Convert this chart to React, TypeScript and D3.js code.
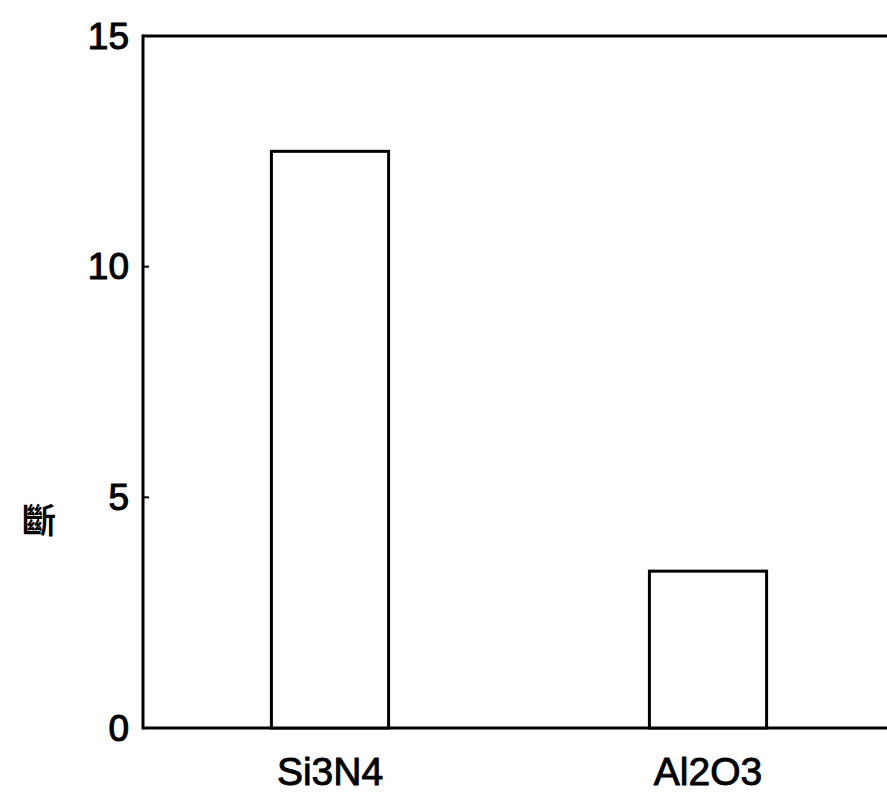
import React from "react";
import * as d3 from "d3";

const categories = ["Si3N4", "Al2O3"];
const values = [12.5, 3.4];
const yTicks = [0, 5, 10, 15];
const yLabel = "斷";

const W = 887;
const H = 795;
const left = 143;
const top = 36;
const bottom = 728;

export default function App() {
  const y = d3.scaleLinear().domain([0, 15]).range([bottom, top]);
  const x = d3
    .scaleBand<string>()
    .domain(categories)
    .range([141, 897])
    .paddingInner(0.69)
    .paddingOuter(0.345);
  const font = "'Liberation Sans', Arial, sans-serif";
  return (
    <svg
      width={W}
      height={H}
      style={{ position: "absolute", left: 0, top: 0, background: "#fff" }}
    >
      {/* frame */}
      <line x1={left} x2={W} y1={top} y2={top} stroke="#000" strokeWidth={3} />
      <line x1={left} x2={left} y1={top - 1.5} y2={bottom + 1.5} stroke="#000" strokeWidth={3} />
      <line x1={left} x2={W} y1={bottom} y2={bottom} stroke="#000" strokeWidth={3} />
      {/* ticks */}
      {yTicks.map((t) => (
        <g key={t}>
          <line x1={left} x2={left + 6} y1={y(t)} y2={y(t)} stroke="#000" strokeWidth={2} />
          <text
            x={left - 14}
            y={y(t)}
            textAnchor="end"
            dominantBaseline="central"
            fontFamily={font}
            fontSize={37}
            stroke="#000"
            strokeWidth={1.1}
          >
            {t}
          </text>
        </g>
      ))}
      {/* bars */}
      {categories.map((c, i) => (
        <rect
          key={c}
          x={x(c)}
          y={y(values[i])}
          width={x.bandwidth()}
          height={bottom - y(values[i])}
          fill="#fff"
          stroke="#000"
          strokeWidth={3}
        />
      ))}
      {/* category labels */}
      {categories.map((c) => (
        <text
          key={c}
          x={(x(c) as number) + x.bandwidth() / 2}
          y={785}
          textAnchor="middle"
          fontFamily={font}
          fontSize={39}
          stroke="#000"
          strokeWidth={0.9}
        >
          {c}
        </text>
      ))}
      <text
        x={39}
        y={518}
        textAnchor="middle"
        dominantBaseline="central"
        fontFamily="'Noto Sans CJK TC', 'Noto Sans CJK SC', sans-serif"
        fontSize={34}
        fontWeight={700}
      >
        {yLabel}
      </text>
    </svg>
  );
}
